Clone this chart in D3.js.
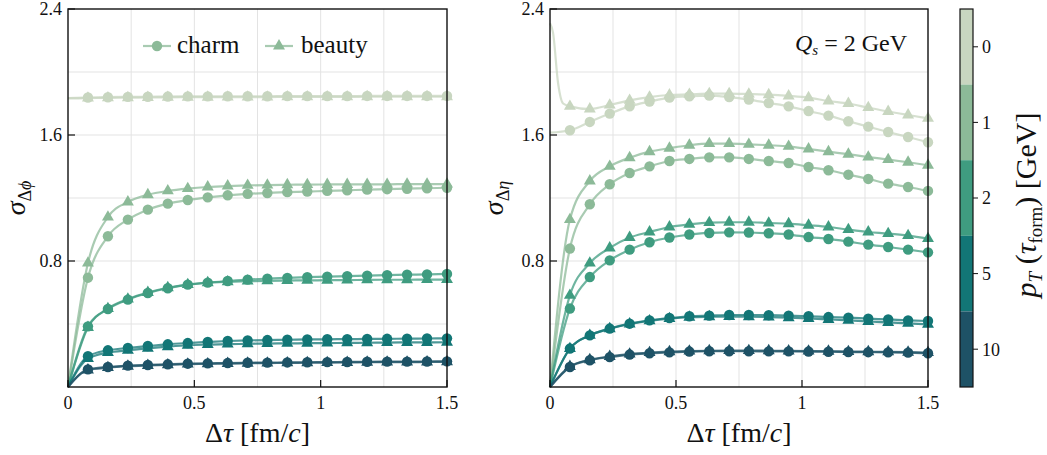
<!DOCTYPE html>
<html><head><meta charset="utf-8">
<script src="https://cdn.jsdelivr.net/npm/d3@7"></script>
<style>
body{margin:0;background:#fff;}
</style></head>
<body><svg id="c" width="1047" height="455" font-family="'Liberation Serif', 'Times New Roman', 'DejaVu Serif', serif"></svg>
<script>
// ---- data ----
const tau = [0, 0.079, 0.158, 0.237, 0.316, 0.395, 0.474, 0.553, 0.632, 0.711, 0.789, 0.868, 0.947, 1.026, 1.105, 1.184, 1.263, 1.342, 1.421, 1.5];
const ptLabels = ["0", "1", "2", "5", "10"];
const ptColors = ["#c8d6c0", "#8cba98", "#3f9c80", "#127676", "#1e5266"];
const xTicks = [0, 0.5, 1, 1.5];
const xTickLabels = ["0", "0.5", "1", "1.5"];
const yTicks = [0.8, 1.6, 2.4];
const yTickLabels = ["0.8", "1.6", "2.4"];

// left panel: sigma_dphi
const phiCharm0  = [1.835, 1.838, 1.840, 1.842, 1.843, 1.844, 1.845, 1.845, 1.846, 1.846, 1.846, 1.847, 1.847, 1.847, 1.847, 1.848, 1.848, 1.848, 1.848, 1.848];
const phiBeauty0 = [1.832, 1.834, 1.836, 1.837, 1.838, 1.839, 1.840, 1.840, 1.841, 1.841, 1.841, 1.842, 1.842, 1.842, 1.842, 1.843, 1.843, 1.843, 1.843, 1.843];
const phiCharm1  = [0, 0.694, 0.957, 1.063, 1.126, 1.164, 1.187, 1.204, 1.217, 1.226, 1.232, 1.237, 1.241, 1.245, 1.249, 1.253, 1.256, 1.259, 1.262, 1.265];
const phiBeauty1 = [0, 0.787, 1.079, 1.175, 1.221, 1.245, 1.260, 1.270, 1.276, 1.280, 1.282, 1.284, 1.285, 1.286, 1.286, 1.287, 1.287, 1.288, 1.288, 1.288];
const phiCharm2  = [0, 0.385, 0.495, 0.555, 0.597, 0.627, 0.650, 0.663, 0.673, 0.682, 0.688, 0.693, 0.697, 0.701, 0.704, 0.707, 0.710, 0.713, 0.715, 0.718];
const phiBeauty2 = [0, 0.378, 0.498, 0.558, 0.600, 0.630, 0.650, 0.662, 0.668, 0.672, 0.674, 0.676, 0.677, 0.678, 0.679, 0.680, 0.681, 0.681, 0.682, 0.682];
const phiCharm5  = [0, 0.195, 0.233, 0.248, 0.260, 0.271, 0.279, 0.286, 0.292, 0.296, 0.298, 0.300, 0.302, 0.303, 0.304, 0.305, 0.306, 0.307, 0.308, 0.309];
const phiBeauty5 = [0, 0.180, 0.218, 0.233, 0.245, 0.256, 0.265, 0.269, 0.272, 0.274, 0.276, 0.277, 0.278, 0.279, 0.280, 0.281, 0.282, 0.283, 0.283, 0.284];
const phiCharm10 = [0, 0.112, 0.127, 0.136, 0.140, 0.144, 0.148, 0.150, 0.152, 0.154, 0.155, 0.156, 0.157, 0.158, 0.159, 0.160, 0.161, 0.161, 0.162, 0.163];
const phiBeauty10= [0, 0.108, 0.123, 0.132, 0.137, 0.141, 0.145, 0.147, 0.149, 0.151, 0.152, 0.153, 0.154, 0.155, 0.156, 0.157, 0.158, 0.158, 0.159, 0.160];

// right panel: sigma_deta
const etaCharm0  = [1.615, 1.630, 1.683, 1.736, 1.782, 1.812, 1.837, 1.846, 1.850, 1.841, 1.825, 1.803, 1.782, 1.752, 1.723, 1.687, 1.653, 1.619, 1.587, 1.554];
const etaBeauty0 = [2.310, 1.782, 1.765, 1.790, 1.820, 1.841, 1.854, 1.858, 1.863, 1.863, 1.860, 1.856, 1.848, 1.837, 1.816, 1.800, 1.774, 1.749, 1.727, 1.706];
const etaBeauty0EarlyTau = [0.012, 0.032, 0.052];
const etaBeauty0EarlyVal = [2.25, 1.93, 1.80];
const etaCharm1  = [0, 0.879, 1.160, 1.287, 1.359, 1.401, 1.435, 1.448, 1.458, 1.458, 1.448, 1.435, 1.422, 1.397, 1.376, 1.348, 1.321, 1.291, 1.270, 1.245];
const etaBeauty1 = [0, 1.063, 1.308, 1.401, 1.456, 1.494, 1.516, 1.535, 1.545, 1.545, 1.541, 1.535, 1.528, 1.511, 1.494, 1.478, 1.460, 1.444, 1.427, 1.408];
const etaCharm2  = [0, 0.498, 0.698, 0.804, 0.872, 0.919, 0.949, 0.968, 0.978, 0.982, 0.981, 0.976, 0.968, 0.952, 0.940, 0.923, 0.904, 0.889, 0.872, 0.855];
const etaBeauty2 = [0, 0.582, 0.787, 0.883, 0.949, 0.984, 1.016, 1.033, 1.044, 1.046, 1.046, 1.041, 1.037, 1.027, 1.016, 0.999, 0.984, 0.974, 0.961, 0.942];
const etaCharm5  = [0, 0.244, 0.328, 0.371, 0.402, 0.423, 0.438, 0.449, 0.453, 0.457, 0.457, 0.456, 0.453, 0.449, 0.444, 0.440, 0.434, 0.429, 0.423, 0.419];
const etaBeauty5 = [0, 0.244, 0.328, 0.370, 0.400, 0.420, 0.434, 0.443, 0.446, 0.447, 0.446, 0.444, 0.440, 0.435, 0.429, 0.423, 0.416, 0.410, 0.404, 0.398];
const etaCharm10 = [0, 0.127, 0.170, 0.190, 0.206, 0.214, 0.220, 0.225, 0.227, 0.227, 0.227, 0.226, 0.226, 0.225, 0.224, 0.222, 0.221, 0.220, 0.218, 0.214];
const etaBeauty10= [0, 0.130, 0.173, 0.194, 0.209, 0.218, 0.224, 0.228, 0.230, 0.231, 0.231, 0.230, 0.229, 0.228, 0.227, 0.225, 0.224, 0.223, 0.221, 0.218];

// ---- drawing ----
const svg = d3.select("#c");
const plotTop = 9, plotBottom = 387;
const ink = "#111";

function panel(x0, x1, charmSets, beautySets, extra) {
  const x = d3.scaleLinear().domain([0, 1.5]).range([x0, x1]);
  const y = d3.scaleLinear().domain([0, 2.4]).range([plotBottom, plotTop]);
  const g = svg.append("g");
  // grid
  g.selectAll(".gx").data([0.25, 0.5, 0.75, 1.0, 1.25]).join("line")
    .attr("x1", d => x(d)).attr("x2", d => x(d)).attr("y1", plotTop).attr("y2", plotBottom)
    .attr("stroke", "#e3e3e3").attr("stroke-width", 1);
  g.selectAll(".gy").data([0.4, 0.8, 1.2, 1.6, 2.0]).join("line")
    .attr("y1", d => y(d)).attr("y2", d => y(d)).attr("x1", x0).attr("x2", x1)
    .attr("stroke", "#e3e3e3").attr("stroke-width", 1);

  const line = d3.line().x(d => x(d[0])).y(d => y(d[1])).curve(d3.curveMonotoneX);
  for (let i = 0; i < 5; i++) {
    const col = ptColors[i];
    const b = beautySets[i], c = charmSets[i];
    let bPts = tau.map((t, j) => [t, b[j]]);
    if (extra && i === 0) {
      const ex = extra.tau.map((t, j) => [t, extra.val[j]]);
      bPts = [bPts[0], ...ex, ...bPts.slice(1)];
    }
    const cPts = tau.map((t, j) => [t, c[j]]);
    g.append("path").attr("d", line(bPts)).attr("fill", "none")
      .attr("stroke", col).attr("stroke-width", 2.2).attr("stroke-opacity", 0.75);
    g.append("path").attr("d", line(cPts)).attr("fill", "none")
      .attr("stroke", col).attr("stroke-width", 2.2).attr("stroke-opacity", 0.75);
    const tri = d3.symbol().type(d3.symbolTriangle).size(62);
    g.selectAll(null).data(tau.slice(1).map((t, j) => [t, b[j + 1]])).join("path")
      .attr("d", tri).attr("transform", d => `translate(${x(d[0])},${y(d[1])})`)
      .attr("fill", col);
    g.selectAll(null).data(tau.slice(1).map((t, j) => [t, c[j + 1]])).join("circle")
      .attr("cx", d => x(d[0])).attr("cy", d => y(d[1])).attr("r", 5.2)
      .attr("fill", col);
  }
  // frame
  g.append("rect").attr("x", x0).attr("y", plotTop).attr("width", x1 - x0).attr("height", plotBottom - plotTop)
    .attr("fill", "none").attr("stroke", ink).attr("stroke-width", 1.4);
  // ticks
  xTicks.forEach((t, i) => {
    g.append("line").attr("x1", x(t)).attr("x2", x(t)).attr("y1", plotBottom).attr("y2", plotBottom - 7)
      .attr("stroke", ink).attr("stroke-width", 1.2);
    g.append("text").attr("x", x(t)).attr("y", 409).attr("text-anchor", "middle")
      .attr("font-size", 18).attr("fill", ink).text(xTickLabels[i]);
  });
  yTicks.forEach((t, i) => {
    g.append("line").attr("x1", x0).attr("x2", x0 + 7).attr("y1", y(t)).attr("y2", y(t))
      .attr("stroke", ink).attr("stroke-width", 1.2);
    g.append("text").attr("x", x0 - 6).attr("y", y(t)).attr("dy", "0.35em").attr("text-anchor", "end")
      .attr("font-size", 18).attr("fill", ink).text(yTickLabels[i]);
  });
  // x label
  const xl = g.append("text").attr("x", (x0 + x1) / 2).attr("y", 442).attr("text-anchor", "middle")
    .attr("font-size", 28).attr("fill", ink);
  xl.append("tspan").text("Δ");
  xl.append("tspan").attr("font-style", "italic").text("τ");
  xl.append("tspan").text(" [fm/");
  xl.append("tspan").attr("font-style", "italic").text("c");
  xl.append("tspan").text("]");
  return {x, y, g};
}

const L = panel(68, 447,
  [phiCharm0, phiCharm1, phiCharm2, phiCharm5, phiCharm10],
  [phiBeauty0, phiBeauty1, phiBeauty2, phiBeauty5, phiBeauty10], null);
const R = panel(550, 928,
  [etaCharm0, etaCharm1, etaCharm2, etaCharm5, etaCharm10],
  [etaBeauty0, etaBeauty1, etaBeauty2, etaBeauty5, etaBeauty10],
  {tau: etaBeauty0EarlyTau, val: etaBeauty0EarlyVal});

// y labels
function ylabel(xp, sub) {
  const t = svg.append("text").attr("transform", `translate(${xp},198) rotate(-90)`)
    .attr("text-anchor", "middle").attr("font-size", 28).attr("fill", ink);
  t.append("tspan").attr("font-style", "italic").text("σ");
  t.append("tspan").attr("font-size", 18).attr("dy", 6).text("Δ");
  t.append("tspan").attr("font-size", 18).attr("font-style", "italic").text(sub);
}
ylabel(25, "ϕ");
ylabel(503, "η");

// legend
const lg = svg.append("g");
const legCol = ptColors[1];
lg.append("line").attr("x1", 143).attr("x2", 171).attr("y1", 46).attr("y2", 46)
  .attr("stroke", legCol).attr("stroke-width", 2.2).attr("stroke-opacity", 0.75);
lg.append("circle").attr("cx", 157).attr("cy", 46).attr("r", 5.2).attr("fill", legCol);
lg.append("text").attr("x", 177).attr("y", 53).attr("font-size", 25).attr("fill", ink).text("charm");
lg.append("line").attr("x1", 265).attr("x2", 293).attr("y1", 46).attr("y2", 46)
  .attr("stroke", legCol).attr("stroke-width", 2.2).attr("stroke-opacity", 0.75);
lg.append("path").attr("d", d3.symbol().type(d3.symbolTriangle).size(62))
  .attr("transform", "translate(279,46)").attr("fill", legCol);
lg.append("text").attr("x", 301).attr("y", 53).attr("font-size", 25).attr("fill", ink).text("beauty");

// Qs annotation
const q = svg.append("text").attr("x", 907).attr("y", 51).attr("text-anchor", "end").attr("font-size", 24).attr("fill", ink);
q.append("tspan").attr("font-style", "italic").text("Q");
q.append("tspan").attr("font-style", "italic").attr("font-size", 15).attr("dy", 4).text("s");
q.append("tspan").attr("dy", -4).text(" = 2 GeV");

// colorbar
const cb = d3.scaleBand().domain(ptLabels).range([plotTop, plotBottom]).paddingInner(0);
const cg = svg.append("g");
cg.selectAll("rect").data(ptLabels).join("rect")
  .attr("x", 960).attr("width", 13).attr("y", d => cb(d)).attr("height", cb.bandwidth())
  .attr("fill", (d, i) => ptColors[i]);
cg.append("rect").attr("x", 960).attr("y", plotTop).attr("width", 13).attr("height", plotBottom - plotTop)
  .attr("fill", "none").attr("stroke", ink).attr("stroke-width", 1.2);
ptLabels.forEach(d => {
  const yc = cb(d) + cb.bandwidth() / 2;
  cg.append("line").attr("x1", 973).attr("x2", 978).attr("y1", yc).attr("y2", yc)
    .attr("stroke", ink).attr("stroke-width", 1);
  cg.append("text").attr("x", 982).attr("y", yc).attr("dy", "0.35em").attr("font-size", 18).attr("fill", ink).text(d);
});
const cl = svg.append("text").attr("transform", "translate(1036,205) rotate(-90)")
  .attr("text-anchor", "middle").attr("font-size", 30).attr("fill", ink);
cl.append("tspan").attr("font-style", "italic").text("p");
cl.append("tspan").attr("font-style", "italic").attr("font-size", 19).attr("dy", 6).text("T");
cl.append("tspan").attr("dy", -6).text(" (");
cl.append("tspan").attr("font-style", "italic").text("τ");
cl.append("tspan").attr("font-size", 19).attr("dy", 6).text("form");
cl.append("tspan").attr("dy", -6).text(")  [GeV]");
</script></body></html>
